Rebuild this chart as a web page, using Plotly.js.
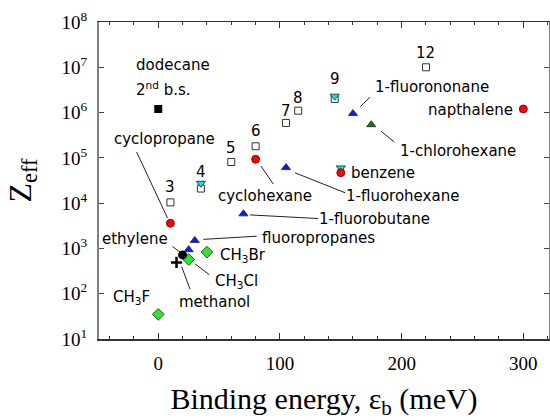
<!DOCTYPE html>
<html>
<head>
<meta charset="utf-8">
<script src="https://cdn.plot.ly/plotly-3.0.1.min.js"></script>
<style>
  html, body { margin: 0; padding: 0; background: #fff; }
  #chart { width: 550px; height: 420px; }
</style>
</head>
<body>
<div id="chart"></div>
<script>
// Positron binding energy (meV) vs annihilation rate Zeff, by molecule family

// n-alkanes CnH2n+2 (open squares), carbon number shown above each point
const alkaneE = [10, 35, 60, 80, 105, 115, 145, 220];
const alkaneZ = [1.04e4, 2.1e4, 8.1e4, 1.8e5, 5.9e5, 1.1e6, 2.0e6, 1.0e7];
const alkaneN = ['3', '4', '5', '6', '7', '8', '9', '12'];

// deuterated species (cyan down-triangles)
const deutE = [35, 145, 150];
const deutZ = [2.75e4, 2.3e6, 6.0e4];

// ring molecules (red circles)
const ringNames = ['cyclopropane', 'cyclohexane', 'benzene', 'napthalene'];
const ringE = [10, 80, 150, 300];
const ringZ = [3.6e3, 9.3e4, 4.7e4, 1.2e6];

// fluoroalkanes (blue triangles)
const fluoroNames = ['fluoropropanes', 'fluoropropanes', '1-fluorobutane', '1-fluorohexane', '1-fluorononane'];
const fluoroE = [25, 30, 70, 105, 160];
const fluoroZ = [9.4e2, 1.5e3, 5.8e3, 6.1e4, 9.5e5];

// chloroalkane (green triangle)
const chloroE = [175];
const chloroZ = [5.4e5];

// methyl halides (green diamonds)
const halideNames = ['CH3F', 'CH3Cl', 'CH3Br'];
const halideE = [0, 25, 40];
const halideZ = [35, 5.7e2, 8.3e2];

// single species
const ethyleneE = [20], ethyleneZ = [7.2e2];
const methanolE = [15], methanolZ = [4.9e2];
const dodecane2E = [0], dodecane2Z = [1.2e6];

// axis ticks
const yTickVals = [1e1, 1e2, 1e3, 1e4, 1e5, 1e6, 1e7, 1e8];
const yTickText = ['10<sup>1</sup>', '10<sup>2</sup>', '10<sup>3</sup>', '10<sup>4</sup>',
                   '10<sup>5</sup>', '10<sup>6</sup>', '10<sup>7</sup>', '10<sup>8</sup>'];
const xTickVals = [0, 100, 200, 300];

const sans = 'DejaVu Sans, Arial, sans-serif';
const serif = 'Liberation Serif, Times New Roman, serif';
const outline = { color: '#222', width: 0.8 };
const lg = Math.log10;

// leader lines joining labels to their points: [x0, logy0, x1, logy1]
const leaders = [
  [-17.8, 5.13, 7.6, 3.67],     // cyclopropane
  [84.4, 4.82, 94.5, 4.42],     // cyclohexane
  [112.4, 4.67, 153.5, 4.23],   // 1-fluorohexane
  [75.4, 3.74, 131.5, 3.66],    // 1-fluorobutane
  [37.0, 3.20, 80.9, 3.27],     // fluoropropanes
  [11.8, 3.04, 18.7, 2.90],     // ethylene
  [30.2, 2.66, 41.9, 2.42],     // CH3Cl
  [19.2, 2.60, 26.1, 2.10],     // methanol
  [166, 6.13, 174, 6.34],       // 1-fluorononane
  [183, 5.59, 194, 5.35]        // 1-chlorohexane
];

const traces = [];
leaders.forEach(function (s) {
  traces.push({
    x: [s[0], s[2]], y: [Math.pow(10, s[1]), Math.pow(10, s[3])],
    mode: 'lines', line: { color: '#222', width: 1 }, hoverinfo: 'skip'
  });
});

traces.push(
  { x: alkaneE, y: alkaneZ, mode: 'markers',
    marker: { symbol: 'square', size: 7, color: '#fff', line: { color: '#333', width: 1 } } },
  { x: deutE, y: deutZ, mode: 'markers',
    marker: { symbol: 'triangle-down', size: 8, color: '#00e5f0', line: outline } },
  { x: ringE, y: ringZ, mode: 'markers', text: ringNames,
    marker: { symbol: 'circle', size: 8, color: '#ff0000', line: { color: '#600', width: 0.8 } } },
  { x: fluoroE, y: fluoroZ, mode: 'markers', text: fluoroNames,
    marker: { symbol: 'triangle-up', size: 8, color: '#0a1aff', line: outline } },
  { x: chloroE, y: chloroZ, mode: 'markers',
    marker: { symbol: 'triangle-up', size: 8, color: '#00801a', line: outline } },
  { x: halideE, y: halideZ, mode: 'markers', text: halideNames,
    marker: { symbol: 'diamond', size: 9, color: '#2ee62e', line: outline } },
  { x: ethyleneE, y: ethyleneZ, mode: 'markers',
    marker: { symbol: 'circle', size: 9, color: '#000' } },
  { x: methanolE, y: methanolZ, mode: 'markers',
    marker: { symbol: 'cross-thin', size: 8, color: '#000', line: { color: '#000', width: 2.5 } } },
  { x: dodecane2E, y: dodecane2Z, mode: 'markers',
    marker: { symbol: 'square', size: 8, color: '#000' } }
);

// carbon-number labels over the alkane squares
const nShift = [15, 17, 14, 15, 12, 13, 20, 14];
const annotations = alkaneN.map(function (t, i) {
  return { x: alkaneE[i], y: lg(alkaneZ[i]), text: t, showarrow: false,
           yshift: nShift[i], font: { family: sans, size: 15, color: '#000' } };
});

// molecule names: [text, x, log10 y, xanchor]
const names = [
  ['dodecane', -20, 7.05, 'left'],
  ['2<sup>nd</sup> b.s.', -20, 6.53, 'left'],
  ['cyclopropane', -38.3, 5.42, 'left'],
  ['1-fluorononane', 225, 6.57, 'center'],
  ['napthalene', 256.6, 6.06, 'center'],
  ['1-chlorohexane', 246.3, 5.15, 'center'],
  ['benzene', 184.8, 4.67, 'center'],
  ['1-fluorohexane', 200.4, 4.15, 'center'],
  ['cyclohexane', 87.9, 4.16, 'center'],
  ['1-fluorobutane', 177.4, 3.66, 'center'],
  ['fluoropropanes', 132, 3.22, 'center'],
  ['ethylene', -18.9, 3.21, 'center'],
  ['CH<sub>3</sub>Br', 69.4, 2.84, 'center'],
  ['CH<sub>3</sub>Cl', 64.6, 2.28, 'center'],
  ['methanol', 45.9, 1.81, 'center'],
  ['CH<sub>3</sub>F', -22.1, 1.91, 'center']
];
names.forEach(function (n) {
  annotations.push({ x: n[1], y: n[2], text: n[0], showarrow: false, xanchor: n[3],
                     font: { family: sans, size: 15, color: '#000' } });
});

// vertical axis title, set to the left of the tick labels
annotations.push({
  xref: 'paper', yref: 'paper', x: -0.171, y: 0.5, xanchor: 'center', yanchor: 'middle',
  text: 'Z<sub>eff</sub>', textangle: -90, showarrow: false,
  font: { family: serif, size: 32, color: '#000' }
});

const layout = {
  width: 550, height: 420,
  margin: { l: 99, r: 1, t: 22, b: 81 },
  paper_bgcolor: '#fff', plot_bgcolor: '#fff',
  showlegend: false,
  xaxis: {
    range: [-48.7, 321.1],
    tickmode: 'array', tickvals: xTickVals,
    ticks: 'inside', ticklen: 6, tickwidth: 1, tickcolor: '#333',
    minor: { dtick: 20, tick0: 0, ticks: 'inside', ticklen: 3, tickcolor: '#333' },
    showline: true, linecolor: '#333', linewidth: 1.5, mirror: 'ticks',
    showgrid: false, zeroline: false,
    ticklabelstandoff: 7,
    tickfont: { family: serif, size: 19, color: '#000' },
    title: { text: 'Binding energy, ε<sub>b</sub> (meV)', font: { family: serif, size: 30, color: '#000' } }
  },
  yaxis: {
    type: 'log', range: [1, 8],
    tickmode: 'array', tickvals: yTickVals, ticktext: yTickText,
    ticks: 'inside', ticklen: 5, tickwidth: 1, tickcolor: '#444',
    showline: true, linecolor: '#808080', linewidth: 2, mirror: 'ticks',
    showgrid: false, zeroline: false,
    ticklabelstandoff: 6,
    tickfont: { family: serif, size: 19, color: '#000' }
  },
  annotations: annotations
};

Plotly.newPlot('chart', traces, layout, { staticPlot: true, displayModeBar: false });
</script>
</body>
</html>
